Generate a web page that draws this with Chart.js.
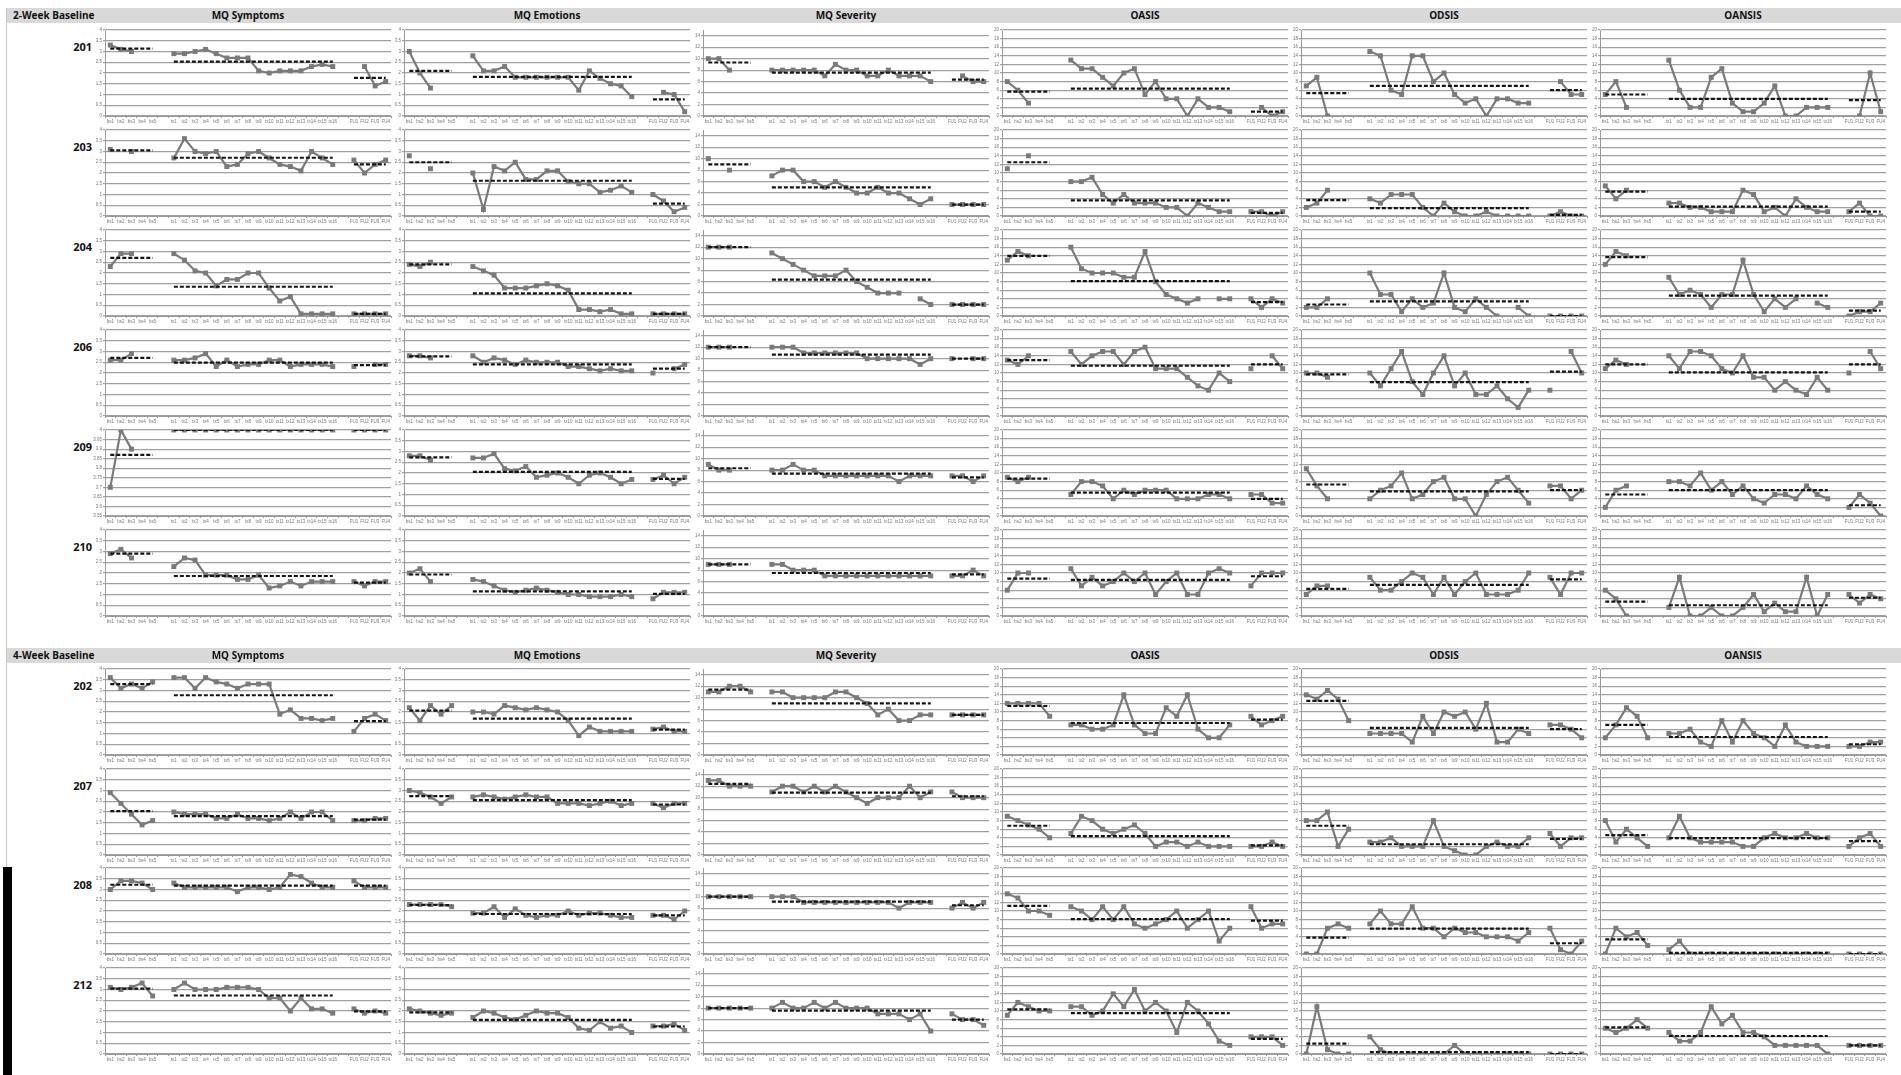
<!DOCTYPE html>
<html>
<head>
<meta charset="utf-8">
<title>Weekly measures by participant</title>
<script src="https://cdn.jsdelivr.net/npm/chart.js@4.4.1/dist/chart.umd.min.js"></script>
<style>
  html, body { margin: 0; padding: 0; background: #fff; }
  #page { position: relative; width: 1901px; height: 1075px; overflow: hidden; font-family: "Open Sans", "Liberation Sans", sans-serif; }
  .hdr { position: absolute; left: 7px; width: 1894px; height: 15px; background: #d9d9d9; }
  .hdr span { position: absolute; top: 0; line-height: 15px; font-weight: bold; font-size: 10px; color: #111; white-space: nowrap; }
  .hdr span.col { transform: translateX(-50%); }
  .pid { position: absolute; font-weight: bold; font-size: 11px; color: #111; text-align: right; width: 40px; line-height: 14px; }
  canvas { position: absolute; }
</style>
</head>
<body>
<div id="page"></div>
<script>
// ---- labels ----
const measures = ['MQ Symptoms', 'MQ Emotions', 'MQ Severity', 'OASIS', 'ODSIS', 'OANSIS'];
const twoWeekIds = ['201', '203', '204', '206', '209', '210'];
const fourWeekIds = ['202', '207', '208', '212'];
const weekLabels = ['bs1','bs2','bs3','bs4','bs5','',
  'tx1','tx2','tx3','tx4','tx5','tx6','tx7','tx8','tx9','tx10','tx11','tx12','tx13','tx14','tx15','tx16','',
  'FU1','FU2','FU3','FU4'];

// y tick values
const halfTicks = [0, 0.5, 1, 1.5, 2, 2.5, 3, 3.5, 4];
const sevTicks = [0, 1, 2, 3, 4, 5, 6, 7, 8, 9, 10, 11, 12, 13, 14, 15];
const scoreTicks = [0, 2, 4, 6, 8, 10, 12, 14, 16, 18, 20];
const fineTicks209 = [3.55, 3.6, 3.65, 3.7, 3.75, 3.8, 3.85, 3.9, 3.95, 4];

// ---- data: 5 baseline, 16 treatment, 4 follow-up; means = [baseline, treatment, follow-up] ----
// 201
const sym201 = [3.3,3.1,3.0,null,null, 2.9,2.9,3.0,3.1,2.9,2.7,2.7,2.7,2.1,2.0,2.1,2.1,2.1,2.3,2.4,2.3, null,2.3,1.4,1.6];
const sym201m = [3.13, 2.53, 1.77];
const emo201 = [3.0,2.0,1.3,null,null, 2.8,2.1,2.1,2.3,1.8,1.8,1.8,1.8,1.8,1.8,1.2,2.1,1.75,1.5,1.4,0.9, null,1.1,1.0,0.2];
const emo201m = [2.1, 1.82, 0.77];
const sev201 = [10,10,8,null,null, 8,8,8,8,8,7,9,8,8,7,7,8,7,7,7,6, null,7,6,6];
const sev201m = [9.33, 7.56, 6.33];
const oas201 = [8,6,3,null,null, 13,11,11,9,7,10,11,5,8,4,4,0,4,2,2,1, null,2,0,1];
const oas201m = [5.67, 6.38, 1.0];
const ods201 = [7,9,0,null,null, 15,14,6,5,14,14,8,10,5,3,4,0,4,4,3,3, null,8,5,5];
const ods201m = [5.33, 7.0, 6.0];
const oan201 = [5,8,2,null,null, 13,6,2,2,9,11,3,1,1,3,7,0,0,2,2,2, null,0,10,1];
const oan201m = [5.0, 4.0, 3.67];
// 203
const sym203 = [3.1,null,3.0,null,null, 2.7,3.6,3.0,2.9,3.0,2.3,2.4,2.9,3.0,2.7,2.4,2.3,2.1,3.0,2.7,2.4, 2.6,2.0,2.4,2.6];
const sym203m = [3.05, 2.71, 2.4];
const emo203 = [2.8,null,2.2,null,null, 2.0,0.3,2.3,2.1,2.5,1.7,1.7,2.1,2.1,1.6,1.5,1.5,1.1,1.2,1.4,1.1, 1.0,0.7,0.2,0.4];
const emo203m = [2.5, 1.64, 0.58];
const sev203 = [10,null,8,null,null, 7,8,8,6,6,5,6,5,4,4,5,4,4,3,2,3, 2,2,2,2];
const sev203m = [9.0, 5.0, 2.0];
const oas203 = [11,null,14,null,null, 8,8,9,5,3,5,3,3,3,2,2,0,3,2,1,1, 1,1,0,1];
const oas203m = [12.5, 3.63, 0.75];
const ods203 = [2,3,6,null,null, 4,3,5,5,5,2,0,3,1,0,0,1,0,0,0,0, 0,1,0,0];
const ods203m = [3.67, 1.81, 0.25];
const oan203 = [7,4,6,null,null, 3,3,2,2,1,1,1,6,5,1,2,0,4,2,1,1, 1,3,0,0];
const oan203m = [5.67, 2.19, 1.0];
// 204
const sym204 = [2.3,2.9,2.9,null,null, 2.9,2.6,2.1,2.0,1.4,1.7,1.7,2.0,2.0,1.3,0.7,0.9,0.1,0.1,0.1,0.1, 0.1,0.1,0.1,0.1];
const sym204m = [2.7, 1.36, 0.1];
const emo204 = [2.4,2.3,2.5,null,null, 2.3,2.1,1.9,1.3,1.3,1.3,1.4,1.5,1.4,1.2,0.3,0.3,0.2,0.3,0.1,0.1, 0.1,0.1,0.1,0.1];
const emo204m = [2.4, 1.05, 0.1];
const sev204 = [12,12,12,null,null, 11,10,9,8,7,7,7,8,6,5,4,4,4,null,3,2, 2,2,2,2];
const sev204m = [12, 6.33, 2];
const oas204 = [13,15,14,null,null, 16,11,10,10,10,9,9,15,8,5,4,3,4,null,4,4, 4,2,4,3];
const oas204m = [14, 8.13, 3.25];
const ods204 = [2,2,4,null,null, 10,5,5,1,4,2,3,10,2,1,4,2,0,null,2,0, 0,0,0,0];
const ods204m = [2.67, 3.4, 0];
const oan204 = [12,15,14,null,null, 9,5,6,5,2,5,5,13,5,1,4,2,4,null,3,2, 0,1,1,3];
const oan204m = [13.67, 4.73, 1.25];
// 206
const sym206 = [2.6,2.6,2.9,null,null, 2.6,2.6,2.7,2.9,2.3,2.6,2.3,2.4,2.4,2.6,2.6,2.3,2.4,2.4,2.4,2.3, 2.3,null,2.4,2.4];
const sym206m = [2.7, 2.48, 2.37];
const emo206 = [2.8,2.8,2.7,null,null, 2.8,2.5,2.7,2.6,2.4,2.6,2.5,2.5,2.5,2.3,2.3,2.2,2.1,2.2,2.1,2.1, 2.0,null,2.2,2.4];
const emo206m = [2.77, 2.4, 2.2];
const sev206 = [12,12,12,null,null, 12,12,12,11,11,11,11,11,11,10,10,10,10,10,9,10, 10,null,10,10];
const sev206m = [12, 10.69, 10];
const oas206 = [13,12,14,null,null, 15,12,14,15,15,12,15,16,11,11,11,9,7,6,10,8, 11,null,14,11];
const oas206m = [13, 11.69, 12];
const ods206 = [10,10,9,null,null, 10,7,11,15,8,5,10,14,7,10,5,5,7,4,2,6, 6,null,15,10];
const ods206m = [9.67, 7.88, 10.33];
const oan206 = [11,13,12,null,null, 14,11,15,15,14,11,10,14,9,9,6,8,6,5,9,6, 10,null,15,11];
const oan206m = [12, 10.13, 12];
// 209
const sym209 = [3.7,4.0,3.9,null,null, 4,4,4,4,4,4,4,4,4,4,4,4,4,4,4,4, 4,4,4,4];
const sym209m = [3.87, 4, 4];
const emo209 = [2.8,2.8,2.6,null,null, 2.7,2.7,2.9,2.2,2.1,2.3,1.8,1.9,2.0,1.8,1.5,1.9,2.0,1.8,1.5,1.7, 1.7,1.9,1.5,1.8];
const emo209m = [2.73, 2.05, 1.73];
const sev209 = [9,8,8,null,null, 8,8,9,8,8,7,7,7,7,7,7,7,6,7,7,7, 7,7,6,7];
const sev209m = [8.33, 7.38, 6.75];
const oas209 = [9,8,9,null,null, 5,8,8,7,4,6,5,6,6,6,4,4,4,5,5,4, 5,5,3,3];
const oas209m = [8.67, 5.44, 4];
const ods209 = [11,7,4,null,null, 4,6,7,10,4,5,8,9,4,4,0,5,8,9,6,3, 7,7,4,6];
const ods209m = [7.33, 5.75, 6];
const oan209 = [2,6,7,null,null, 8,8,7,10,6,8,5,7,4,3,5,5,4,7,5,4, 2,5,3,0];
const oan209m = [5, 6, 2.5];
// 210
const sym210 = [2.9,3.1,2.7,null,null, 2.3,2.7,2.6,1.9,1.9,1.9,1.7,1.7,1.9,1.3,1.4,1.6,1.4,1.6,1.6,1.6, 1.6,1.4,1.6,1.6];
const sym210m = [2.9, 1.86, 1.55];
const emo210 = [2.0,2.2,1.6,null,null, 1.7,1.6,1.4,1.2,1.1,1.2,1.3,1.2,1.1,1.0,1.0,0.9,0.9,0.9,1.0,0.9, 0.8,1.1,1.1,1.1];
const emo210m = [1.93, 1.15, 1.03];
const sev210 = [9,9,9,null,null, 9,9,8,8,8,7,7,7,7,7,7,7,7,7,7,7, 7,7,8,7];
const sev210m = [9, 7.5, 7.25];
const oas210 = [6,10,10,null,null, 11,7,9,7,8,10,8,10,5,8,10,5,5,10,11,10, 7,10,10,10];
const oas210m = [8.67, 8.38, 9.25];
const ods210 = [5,7,7,null,null, 9,6,6,8,10,9,5,9,5,8,10,5,5,5,6,10, 9,5,10,10];
const ods210m = [6.33, 7.25, 8.5];
const oan210 = [6,4,0,null,null, 2,9,0,0,2,0,0,2,5,1,3,1,1,9,0,5, 5,3,5,4];
const oan210m = [3.33, 2.5, 4.25];
// 202
const sym202 = [3.6,3.1,3.3,3.1,3.4, 3.6,3.6,3.1,3.6,3.4,3.3,3.1,3.3,3.3,3.3,1.9,2.1,1.7,1.7,1.6,1.7, 1.1,1.7,1.9,1.6];
const sym202m = [3.3, 2.78, 1.58];
const emo202 = [2.2,1.6,2.3,1.9,2.3, 2.0,2.0,1.9,2.3,2.2,2.1,2.2,2.1,2.0,1.6,0.9,1.3,1.1,1.1,1.1,1.1, 1.2,1.3,1.1,1.1];
const emo202m = [2.06, 1.69, 1.18];
const sev202 = [11,11,12,12,11, 11,11,10,10,10,10,11,11,10,9,7,8,6,6,7,7, 7,7,7,7];
const sev202m = [11.4, 9.0, 7];
const oas202 = [12,12,12,12,9, 7,7,6,6,7,14,7,5,5,11,9,14,6,4,4,7, 9,7,8,9];
const oas202m = [11.4, 7.44, 8.25];
const ods202 = [14,13,15,13,8, 5,5,5,5,3,9,5,10,9,10,6,12,3,3,6,5, 7,7,6,4];
const ods202m = [12.6, 6.31, 6];
const oan202 = [4,7,11,9,4, 5,5,6,3,2,8,3,8,5,4,2,7,3,2,2,2, 2,2,3,3];
const oan202m = [7, 4.19, 2.5];
// 207
const sym207 = [2.9,2.4,1.9,1.4,1.6, 2.0,1.9,1.9,1.9,1.7,1.7,1.9,1.7,1.7,1.6,1.7,2.0,1.7,2.0,2.0,1.6, 1.6,1.6,1.7,1.7];
const sym207m = [2.04, 1.81, 1.65];
const emo207 = [3.0,2.9,2.7,2.4,2.7, 2.7,2.8,2.7,2.6,2.7,2.8,2.7,2.7,2.4,2.4,2.4,2.3,2.4,2.5,2.3,2.4, 2.4,2.2,2.4,2.4];
const emo207m = [2.74, 2.55, 2.35];
const sev207 = [13,13,12,12,12, 11,12,12,11,12,11,12,11,10,9,10,10,10,12,10,11, 11,10,10,10];
const sev207m = [12.4, 10.88, 10.25];
const oas207 = [9,8,7,6,4, 5,9,8,6,5,6,7,5,2,3,3,2,3,2,2,2, 2,2,3,2];
const oas207m = [6.8, 4.38, 2.25];
const ods207 = [8,8,10,2,6, 3,3,4,2,2,2,8,2,1,0,0,2,3,2,2,4, 5,2,4,4];
const ods207m = [6.8, 2.5, 3.75];
const oan207 = [8,3,6,4,2, 4,9,4,3,3,3,3,2,2,4,5,4,4,5,4,4, 2,4,5,2];
const oan207m = [4.6, 3.94, 3.25];
// 208
const sym208 = [3.0,3.4,3.4,3.3,3.0, 3.3,3.1,3.1,3.1,3.1,3.1,2.9,3.1,3.1,3.0,3.1,3.7,3.6,3.3,3.1,3.1, 3.4,3.1,3.1,3.1];
const sym208m = [3.22, 3.18, 3.18];
const emo208 = [2.3,2.3,2.3,2.3,2.2, 1.9,1.9,2.2,1.7,2.1,1.8,1.7,1.8,1.8,2.0,1.8,1.9,1.9,1.8,1.7,1.7, 1.8,1.8,1.6,2.0];
const emo208m = [2.28, 1.86, 1.8];
const sev208 = [10,10,10,10,10, 10,10,10,9,9,9,9,9,9,9,9,9,8,9,9,9, 8,9,8,9];
const sev208m = [10, 9.13, 8.5];
const oas208 = [14,13,10,10,9, 11,10,8,11,8,11,7,6,7,8,10,6,8,10,3,6, 11,6,7,7];
const oas208m = [11.2, 8.13, 7.75];
const ods208 = [0,0,6,7,6, 7,10,7,7,11,6,6,4,6,5,5,4,4,4,3,5, 6,1,0,3];
const ods208m = [3.8, 5.88, 2.5];
const oan208 = [0,6,4,5,2, 1,3,0,0,0,0,0,0,0,0,0,0,0,0,0,0, 0,0,0,0];
const oan208m = [3.4, 0.25, 0];
// 212
const sym212 = [3.1,3.0,3.1,3.3,2.7, 3.0,3.3,3.0,3.0,3.0,3.1,3.1,3.1,3.0,2.6,2.6,2.0,2.6,2.1,2.1,1.9, 2.1,1.9,2.0,1.9];
const sym212m = [3.04, 2.72, 1.98];
const emo212 = [2.1,2.0,1.9,1.8,1.9, 1.7,2.0,1.9,1.7,1.6,1.8,2.0,1.9,1.9,1.7,1.2,1.1,1.5,1.2,1.3,1.0, 1.3,1.3,1.4,1.1];
const emo212m = [1.94, 1.59, 1.28];
const sev212 = [8,8,8,8,8, 8,9,8,8,9,8,9,8,8,8,7,7,7,6,7,4, 7,6,6,5];
const sev212m = [8, 7.56, 6];
const oas212 = [9,12,11,10,10, 11,11,9,10,14,11,15,10,12,10,5,12,10,7,3,2, 4,4,4,2];
const oas212m = [10.4, 9.5, 3.5];
const ods212 = [0,11,1,0,0, 4,1,0,0,0,0,0,0,2,0,0,0,0,0,0,0, 0,0,0,0];
const ods212m = [2.4, 0.44, 0];
const oan212 = [6,5,6,8,6, 5,3,3,5,11,7,9,5,5,4,2,2,2,2,2,0, 2,2,2,2];
const oan212m = [6.2, 4.19, 2];

// lookup: participant -> one [values, means] pair per measure column
const panels = {
  '201': [[sym201,sym201m],[emo201,emo201m],[sev201,sev201m],[oas201,oas201m],[ods201,ods201m],[oan201,oan201m]],
  '203': [[sym203,sym203m],[emo203,emo203m],[sev203,sev203m],[oas203,oas203m],[ods203,ods203m],[oan203,oan203m]],
  '204': [[sym204,sym204m],[emo204,emo204m],[sev204,sev204m],[oas204,oas204m],[ods204,ods204m],[oan204,oan204m]],
  '206': [[sym206,sym206m],[emo206,emo206m],[sev206,sev206m],[oas206,oas206m],[ods206,ods206m],[oan206,oan206m]],
  '209': [[sym209,sym209m],[emo209,emo209m],[sev209,sev209m],[oas209,oas209m],[ods209,ods209m],[oan209,oan209m]],
  '210': [[sym210,sym210m],[emo210,emo210m],[sev210,sev210m],[oas210,oas210m],[ods210,ods210m],[oan210,oan210m]],
  '202': [[sym202,sym202m],[emo202,emo202m],[sev202,sev202m],[oas202,oas202m],[ods202,ods202m],[oan202,oan202m]],
  '207': [[sym207,sym207m],[emo207,emo207m],[sev207,sev207m],[oas207,oas207m],[ods207,ods207m],[oan207,oan207m]],
  '208': [[sym208,sym208m],[emo208,emo208m],[sev208,sev208m],[oas208,oas208m],[ods208,ods208m],[oan208,oan208m]],
  '212': [[sym212,sym212m],[emo212,emo212m],[sev212,sev212m],[oas212,oas212m],[ods212,ods212m],[oan212,oan212m]]
};
const measureTicks = [halfTicks, halfTicks, sevTicks, scoreTicks, scoreTicks, scoreTicks];

// ---- layout ----
const colX = [105, 404, 703, 1002, 1301, 1600];  // y-axis position of each column
const plotW = 286, plotH = 86;
const axisW = 18, padTop = 5, padRight = 4, xAxisH = 11;

Chart.defaults.font.family = '"Liberation Sans", sans-serif';

const page = document.getElementById('page');

// 25 stored values -> 27 category slots (blank slot between phases)
function slots(v) {
  return [...v.slice(0, 5), null, ...v.slice(5, 21), null, ...v.slice(21, 25)];
}
// phase means -> dashed line across each phase
function meanSlots(m) {
  const out = [];
  for (let i = 0; i < 27; i++) {
    if (i < 5) out.push(m[0]);
    else if (i === 5 || i === 22) out.push(null);
    else if (i < 22) out.push(m[1]);
    else out.push(m[2]);
  }
  return out;
}
function fmt(v) { return String(Math.round(v * 100) / 100); }

function makePanel(left, top, vals, means, ticks) {
  const cv = document.createElement('canvas');
  cv.width = axisW + plotW + padRight;
  cv.height = padTop + plotH + xAxisH;
  cv.style.left = (left - axisW) + 'px';
  cv.style.top = (top - padTop) + 'px';
  page.appendChild(cv);

  new Chart(cv, {
    type: 'line',
    data: {
      labels: weekLabels,
      datasets: [
        { data: slots(vals), borderColor: '#7a7a7a', backgroundColor: '#7a7a7a', borderWidth: 2.2,
          pointStyle: 'rect', pointRadius: 3.5, pointBorderWidth: 0, tension: 0, spanGaps: false, order: 1 },
        { data: meanSlots(means), borderColor: '#141414', borderWidth: 2.2, borderDash: [4, 2],
          pointRadius: 0, tension: 0, spanGaps: false, order: 0 }
      ]
    },
    options: {
      responsive: false,
      animation: false,
      events: [],
      layout: { padding: { top: padTop, right: padRight, left: 0, bottom: 0 } },
      plugins: { legend: { display: false }, tooltip: { enabled: false } },
      scales: {
        x: {
          offset: true,
          grid: { display: true, drawOnChartArea: false, offset: true, tickLength: 2, color: '#9a9a9a' },
          border: { color: '#9a9a9a' },
          ticks: { font: { size: 4.5 }, color: '#777', maxRotation: 0, minRotation: 0, autoSkip: false, padding: 1 },
          afterFit: s => { s.height = xAxisH; }
        },
        y: {
          min: ticks[0],
          max: ticks[ticks.length - 1],
          grid: { color: '#a0a0a0', lineWidth: 1.2, tickLength: 2 },
          border: { color: '#9a9a9a' },
          ticks: { font: { size: 4.5 }, color: '#777', padding: 1, callback: v => fmt(v) },
          afterBuildTicks: s => { s.ticks = ticks.map(v => ({ value: v })); },
          afterFit: s => { s.width = axisW; }
        }
      }
    }
  });
}

function addHeader(top, groupName) {
  const h = document.createElement('div');
  h.className = 'hdr';
  h.style.top = top + 'px';
  let html = '<span style="left:6px">' + groupName + '</span>';
  measures.forEach((m, c) => {
    html += '<span class="col" style="left:' + (colX[c] + plotW / 2 - 7) + 'px">' + m + '</span>';
  });
  h.innerHTML = html;
  page.appendChild(h);
}

function addGroup(ids, firstTop, pitch) {
  ids.forEach((id, r) => {
    const top = Math.round(firstTop + r * pitch);
    const lab = document.createElement('div');
    lab.className = 'pid';
    lab.style.left = '52px';
    lab.style.top = (top + 10) + 'px';
    lab.textContent = id;
    page.appendChild(lab);
    panels[id].forEach((pair, c) => {
      const ticks = (id === '209' && c === 0) ? fineTicks209 : measureTicks[c];
      makePanel(colX[c], top, pair[0], pair[1], ticks);
    });
  });
}

// left rule and dark strip at the lower left edge
const rule = document.createElement('div');
rule.style.cssText = 'position:absolute;left:6px;top:8px;width:1px;height:1067px;background:#c8c8c8;';
page.appendChild(rule);
const strip = document.createElement('div');
strip.style.cssText = 'position:absolute;left:3px;top:867px;width:9px;height:208px;background:#000;';
page.appendChild(strip);

addHeader(8, '2-Week Baseline');
addGroup(twoWeekIds, 30, 100);
addHeader(648, '4-Week Baseline');
addGroup(fourWeekIds, 669, 99.7);
</script>
</body>
</html>
